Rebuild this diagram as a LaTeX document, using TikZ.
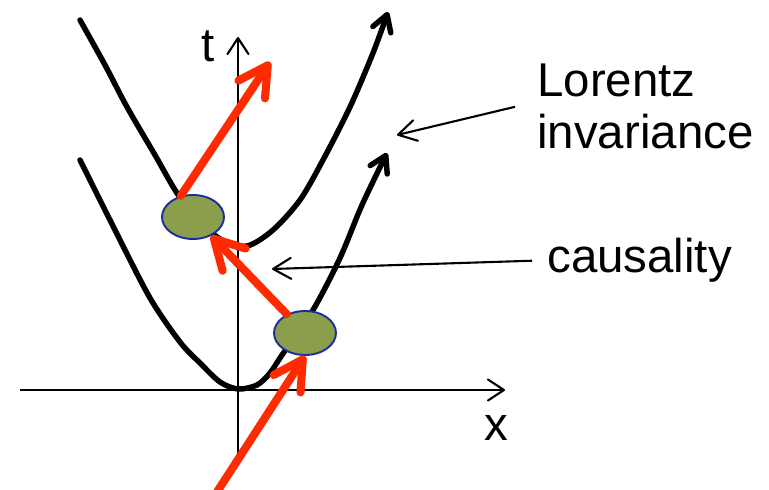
\documentclass[tikz,border=0pt]{standalone}
\usepackage{fontspec}
\setmainfont{Liberation Sans}
\usetikzlibrary{arrows.meta, shapes.geometric}

\definecolor{signalred}{HTML}{FF2A00}
\definecolor{eventgreen}{HTML}{8A9E4B}
\definecolor{eventblue}{HTML}{1C2F9E}

\begin{document}
\begin{tikzpicture}[x=0.02cm, y=-0.02cm,
    axis/.style={line width=1.2pt, -{Straight Barb[length=0.32cm, width=0.42cm, round]}},
    worldline/.style={line width=3.1pt, line cap=round, -{Straight Barb[length=0.32cm, width=0.38cm, round]}},
    signal/.style={signalred, line width=4.6pt, line cap=round, -{Straight Barb[length=0.58cm, width=0.64cm, round]}},
    note/.style={line width=1.2pt, -{Straight Barb[length=0.36cm, width=0.42cm, round]}},
    event/.style={ellipse, draw=eventblue, line width=1.1pt, fill=eventgreen,
        minimum width=1.24cm, minimum height=0.88cm, inner sep=0pt},
    label/.style={font=\fontsize{27}{29.5}\selectfont, inner ysep=0pt}]
    \useasboundingbox (0,0) rectangle (769,490);

    % Draw the axes
    \draw[axis] (20,390) -- (505,390);
    \draw[axis] (238,455) -- (238,37);
    \node[label] (xlab) at (496,428) {x};
    \node[label] (tlab) at (208,46) {t};

    % Draw the two hyperbolas
    \draw[worldline] plot[smooth] coordinates {(80,160) (115,230) (150,298)
        (180,342) (200,363) (220,382) (238,389) (257,385) (270,373) (282,355)
        (313,310) (340,258) (362,205) (387,153)};
    \draw[worldline] plot[smooth] coordinates {(80,20) (105,65) (127,107) (155,155)
        (177,193) (200,222) (222,240) (247,246) (273,230) (300,200) (323,160)
        (350,107) (373,53) (388,12)};

    % Place the events
    \node[event] (upper) at (193,217) {};
    \node[event] (lower) at (305,333) {};

    % Draw the red arrows
    \coordinate (source) at (217,492);
    \coordinate (future) at (270,62);
    \draw[signal] (source) -- (lower.south);
    \draw[signal] (lower) -- (upper);
    \draw[signal] (upper.120) -- (future);

    % Place the labels and their pointers
    \node[label, align=left, anchor=north west, inner xsep=0.44cm] (lorentz) at (515,64) {Lorentz\\invariance};
    \node[label, anchor=base west, inner xsep=0.3cm] (causal) at (532,273) {causality};
    \coordinate (lorentzTip) at (397,135);
    \coordinate (causalTip) at (272,269);
    \draw[note] (lorentz.west) -- (lorentzTip);
    \draw[note] (causal.west) -- (causalTip);
\end{tikzpicture}
\end{document}
